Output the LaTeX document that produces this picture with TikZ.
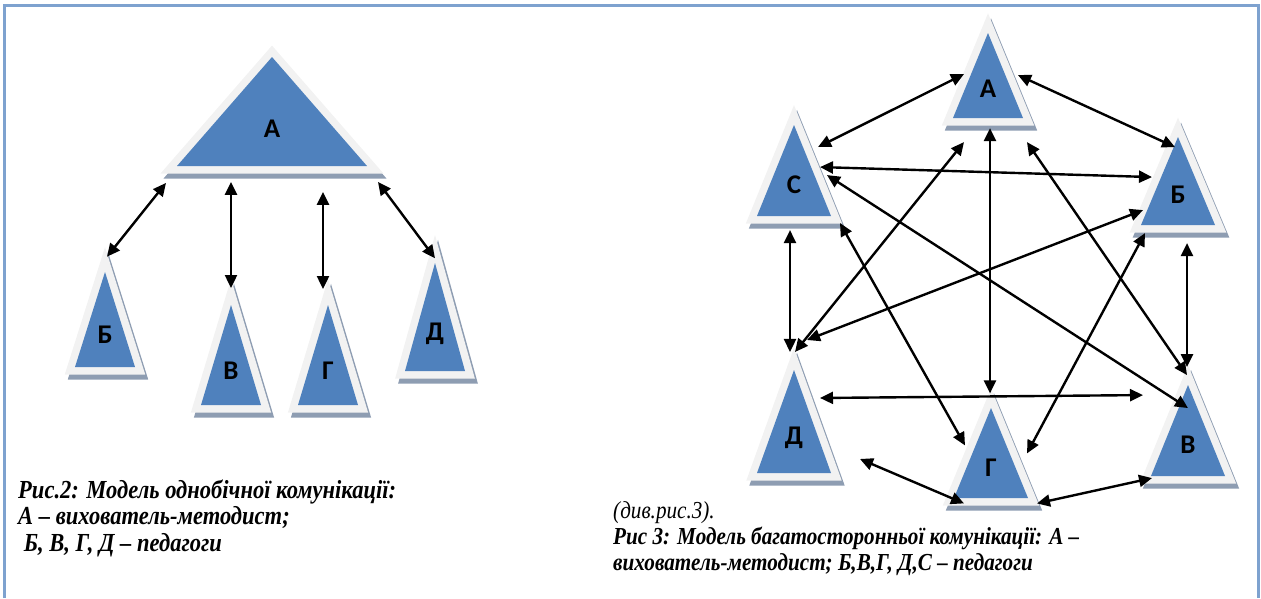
\documentclass[tikz,border=0pt]{standalone}
\usepackage{fontspec}
\setmainfont{Liberation Serif}[FakeStretch=0.867]
\newfontfamily\lblfont{Carlito}
\usetikzlibrary{arrows.meta}
\definecolor{cblue}{HTML}{4F81BD}
\definecolor{cbevel}{HTML}{F2F2F2}
\definecolor{cshade}{HTML}{8E9DB2}
\definecolor{cframe}{HTML}{7EA2CF}
\tikzset{
  every picture/.style={x=1pt, y=-1pt, line width=2.4pt},
  tri body/.style={fill=cblue, preaction={draw=cbevel, line width=15pt, line join=miter}},
  tri shade/.style={fill=cshade, draw=cshade, line width=15pt, line join=miter},
  letter/.style={font=\lblfont\bfseries\fontsize{27}{27}\selectfont, inner sep=0pt},
  link/.style={{Triangle[length=13pt, width=12pt]}-{Triangle[length=13pt, width=12pt]}, draw=black},
  caption/.style={font=\bfseries\itshape\fontsize{26}{26.5}\selectfont, align=left, inner sep=0pt, anchor=base west},
  frameline/.style={draw=cframe, line width=3pt},
  pics/tri/.style n args={3}{code={
    \path[tri shade, shift={(3,5)}] (-#1,0) -- (0,-#2) -- (#1,0) -- cycle;
    \path[tri body] (-#1,0) -- (0,-#2) -- (#1,0) -- cycle;
    \node[letter] (-l) at (0,{-0.34*#2}) {#3};
  }},
}
\begin{document}
\begin{tikzpicture}
  \useasboundingbox (0,0) rectangle (1261,598);
  \draw[frameline] (4.5,598) -- (4.5,5) -- (1258.5,5) -- (1258.5,598);

  \pic (a) at (272,166) {tri={95}{109}{А}};
  \pic (b) at (105,367) {tri={30}{95}{Б}};
  \pic (v) at (231,405) {tri={30}{100}{В}};
  \pic (g) at (328,405) {tri={30}{100}{Г}};
  \pic (d) at (435,371) {tri={30}{108}{Д}};
  \draw[link] ([shift={(-106,54)}]a-l.center) -- ([shift={(2,-78)}]b-l.center);
  \draw[link] ([shift={(-41,53)}]a-l.center) -- ([shift={(0,-83)}]v-l.center);
  \draw[link] ([shift={(51,63)}]a-l.center) -- ([shift={(-5,-82)}]g-l.center);
  \draw[link] ([shift={(106,53)}]a-l.center) -- ([shift={(0,-76)}]d-l.center);
  \node[caption] (cap2) at (17,551) {Рис.2: Модель однобічної комунікації:\\А – вихователь-методист;\\\ Б, В, Г, Д – педагоги};

  \pic (ra) at (988,118) {tri={35}{85}{А}};
  \pic (rc) at (794,216) {tri={37}{91}{С}};
  \pic (rb) at (1178,225) {tri={37}{88}{Б}};
  \pic (rd) at (794,473) {tri={37}{103}{Д}};
  \pic (rg) at (991,498) {tri={37}{90}{Г}};
  \pic (rv) at (1188,476) {tri={37}{91}{В}};
  \draw[link] ([shift={(-24,-15)}]ra-l.center) -- ([shift={(24,-38)}]rc-l.center);
  \draw[link] ([shift={(30,-14)}]ra-l.center) -- ([shift={(-3,-48)}]rb-l.center);
  \draw[link] ([shift={(26,-18)}]rc-l.center) -- ([shift={(-26,-18)}]rb-l.center);
  \draw[link] ([shift={(-4,45)}]rc-l.center) -- ([shift={(-4,-86)}]rd-l.center);
  \draw[link] ([shift={(9,48)}]rb-l.center) -- ([shift={(-1,-78)}]rv-l.center);
  \draw[link] ([shift={(26,-40)}]rd-l.center) -- ([shift={(-45,-50)}]rv-l.center);
  \draw[link] ([shift={(66,21)}]rd-l.center) -- ([shift={(-27,36)}]rg-l.center);
  \draw[link] ([shift={(46,36)}]rg-l.center) -- ([shift={(-36,33)}]rv-l.center);
  \draw[link] ([shift={(2,39)}]ra-l.center) -- ([shift={(-1,-74)}]rg-l.center);
  \draw[link] ([shift={(-24,53)}]ra-l.center) -- ([shift={(1,-86)}]rd-l.center);
  \draw[link] ([shift={(46,38)}]rc-l.center) -- ([shift={(-26,-22)}]rg-l.center);
  \draw[link] ([shift={(33,-10)}]rc-l.center) -- ([shift={(0,-37)}]rv-l.center);
  \draw[link] ([shift={(-35,15)}]rb-l.center) -- ([shift={(13,-98)}]rd-l.center);
  \draw[link] ([shift={(-33,38)}]rb-l.center) -- ([shift={(36,-14)}]rg-l.center);
  \draw[link] ([shift={(39,53)}]ra-l.center) -- ([shift={(-1,-70)}]rv-l.center);
  \node[caption, font=\bfseries\itshape\fontsize{24.4}{26}\selectfont] (cap3) at (612,570) {{\mdseries (див.рис.3).}\\Рис 3: Модель багатосторонньої комунікації: А –\\вихователь-методист; Б,В,Г, Д,С – педагоги};
\end{tikzpicture}
\end{document}
